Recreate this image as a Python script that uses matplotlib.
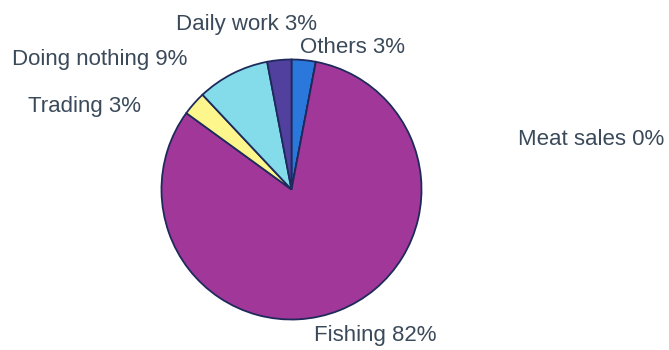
import matplotlib
matplotlib.use("Agg")
import matplotlib.pyplot as plt

# activity shares (percent), clockwise from 12 o'clock
activities = ['Others', 'Meat sales', 'Fishing', 'Trading', 'Doing nothing', 'Daily work']
shares = [3, 0, 82, 3, 9, 3]
colors = ['#2a78dc', '#c0c0c0', '#a2379a', '#fdf68c', '#84dcea', '#52409e']

# where each label sits on the canvas (pixels, y downwards)
label_xy = {
    'Others': (352, 45),
    'Meat sales': (591, 137),
    'Fishing': (375, 333),
    'Trading': (85, 104),
    'Doing nothing': (100, 57),
    'Daily work': (246, 22),
}

W, H = 669, 350
fig = plt.figure(figsize=(W / 100, H / 100), dpi=100)
fig.patch.set_facecolor('white')
ax = fig.add_axes([0, 0, 1, 1])
ax.set_xlim(0, W)
ax.set_ylim(0, H)
ax.set_aspect('equal')
ax.axis('off')

wedges, texts = ax.pie(shares, labels=[f'{a} {v}%' for a, v in zip(activities, shares)],
                       colors=colors, startangle=90, counterclock=False,
                       center=(291.5, H - 189.5), radius=130, frame=True,
                       wedgeprops=dict(edgecolor='#1e2a5c', linewidth=1.3),
                       textprops=dict(fontsize=16, family='Liberation Sans', color='#3b4a5a'))
ax.set_xlim(0, W)
ax.set_ylim(0, H)
ax.axis('off')

for name, t in zip(activities, texts):
    x, y = label_xy[name]
    t.set_position((x, H - y))
    t.set_ha('center')
    t.set_va('center_baseline')

fig.savefig('out.png', dpi=100, facecolor='white')
